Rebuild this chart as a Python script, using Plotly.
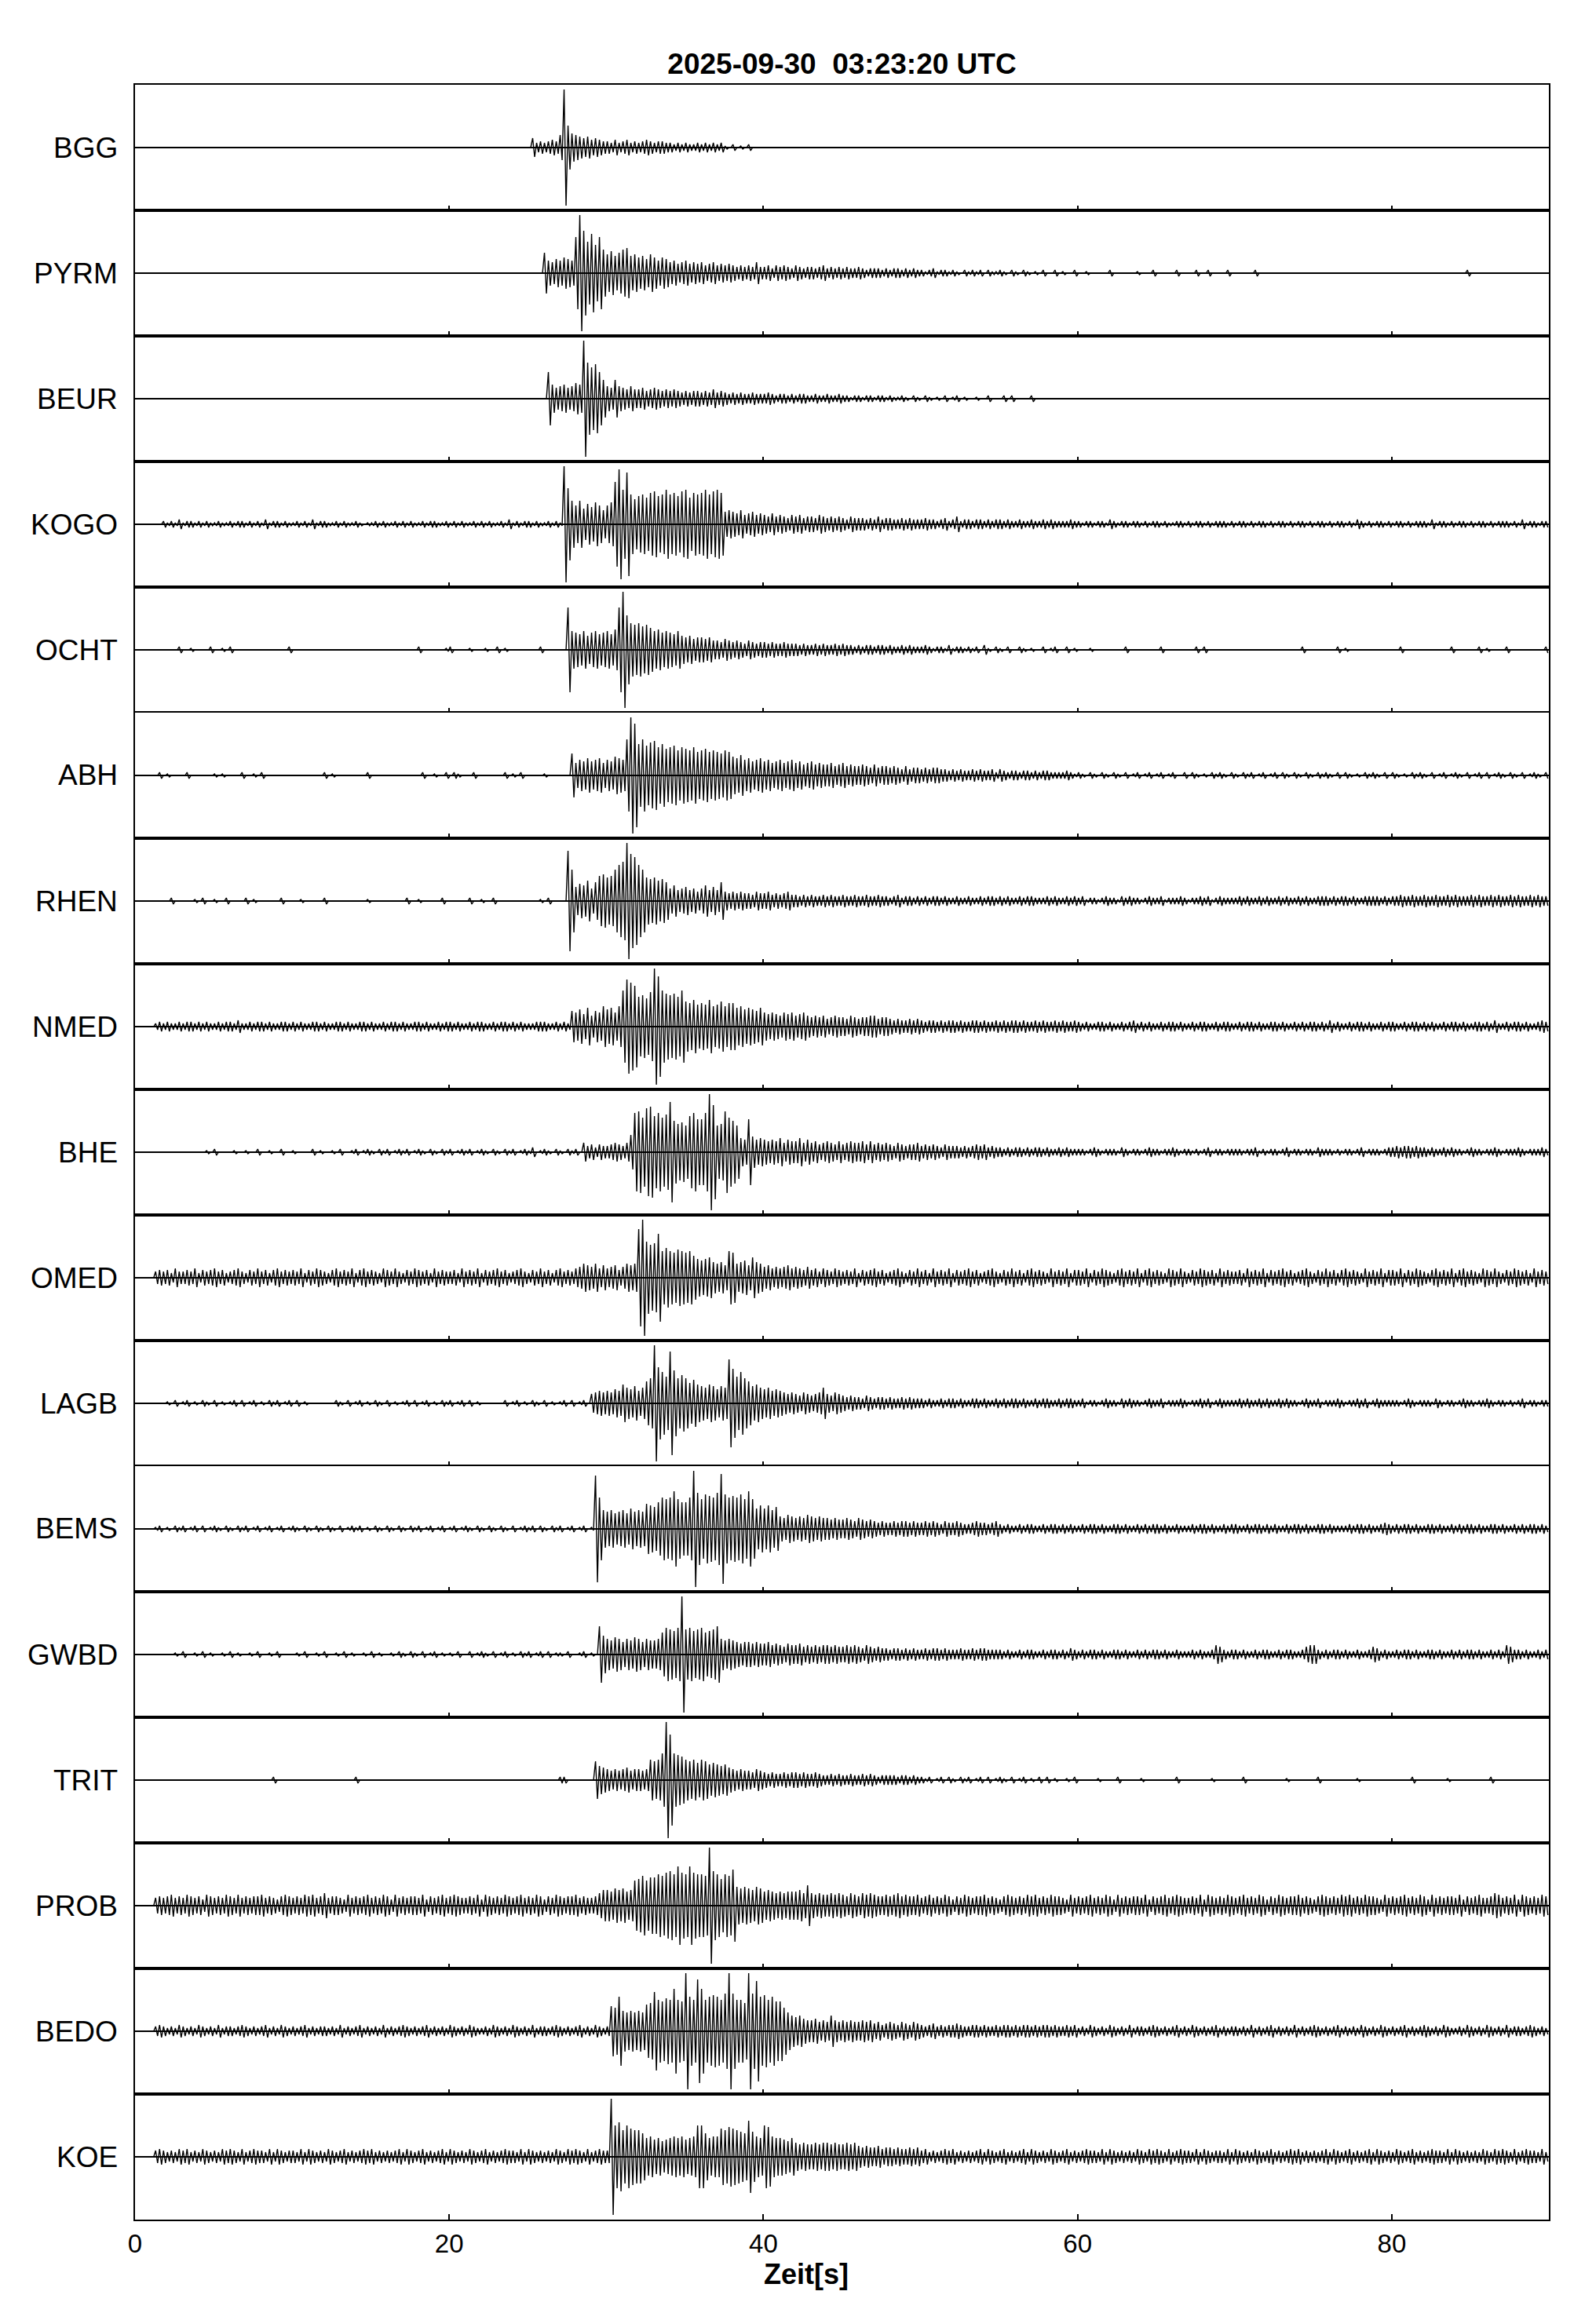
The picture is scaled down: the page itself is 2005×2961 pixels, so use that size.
import plotly.graph_objects as go
from plotly.subplots import make_subplots

TITLE = "2025-09-30\u00a0 03:23:20 UTC"
X_LABEL = "Zeit[s]"
X_TICKS = [0, 20, 40, 60, 80]
T_MAX = 90

# Traces are stored as peak amplitudes per 0.25 s bin (min/max decimation):
# one text row per 10 s, one character per bin, 0-9 a-z A-E -> 0..40,
# 40 = half the panel height.
BIN_S = 0.25
LEVELS = "0123456789abcdefghijklmnopqrstuvwxyzABCDE"

ZERO = "0000 0000 0000 0000 0000 0000 0000 0000 0000 0000"
N3_A = "2324 3232 4323 2423 3234 3232 3423 2432 3234 2323"
N3_B = "3232 4232 3423 2324 2323 4323 2342 3232 4323 2432"
N4_A = "4536 4546 3545 6453 4564 3546 4535 6454 3645 4635"
N4_B = "5463 5465 4356 4546 3564 5436 5464 3546 5453 6454"
N5_A = "5675 6576 4657 6566 7565 4676 5657 6756 5766 5475"
N5_B = "6567 5657 6475 6566 5746 5675 6765 5657 4765 6576"

BGG = [
    ZERO, ZERO,
    "0000 0000 0000 0000 0000 0634 3454 8Be9 8767 5654",
    "4353 4534 3454 3443 3232 3223 2323 2310 2010 2000",
    ZERO, ZERO, ZERO, ZERO, ZERO,
]
PYRM = [
    ZERO, ZERO,
    "0000 0000 0000 0000 0000 0000 d879 8a98 nBrk pinf",
    "cebd fgbc ab9c a8a9 7867 8676 7567 5656 5454 5474",
    "4535 4543 5434 4345 3434 3433 4323 3323 2332 3232",
    "2123 1221 2102 1212 0211 2102 1021 0102 0020 1002",
    "0010 0000 2000 0001 0002 0000 0200 0020 0200 0020",
    "0000 0200 0000 0000 0000 0000 0000 0000 0000 0000",
    "0000 0000 0000 0000 0002 0000 0000 0000 0000 0000",
]
BEUR = [
    ZERO, ZERO,
    "0000 0000 0000 0000 0000 0000 0h97 8978 a9Bn kmhc",
    "87c8 7686 6756 7656 5654 5455 4546 4543 4343 3433",
    "3432 3323 2332 2322 3223 2212 2122 1221 2112 1021",
    "0210 1020 1201 0010 0200 0202 0000 2000 0000 0000",
    ZERO, ZERO, ZERO,
]
KOGO = [
    "0000 0002 1213 1221 2121 1211 2122 1212 1312 2121",
    "1212 1312 2112 1211 2101 1212 1121 2121 1212 2112",
    "1212 1121 2121 1213 1212 2121 1212 1Bnf cfad bec9",
    "cerz mxjg ijhk lijm jkil mhkj kmjl mk89 8796 7867",
    "6575 6546 5645 5465 4545 4354 4434 3534 4334 3433",
    "3433 2342 3523 3233 2323 3232 2322 3223 2322 2232",
    "2122 1221 3212 2122 1212 2121 1221 2122 1212 2212",
    "1221 2122 1212 2121 2212 1221 2122 1213 2121 2212",
    "1221 2122 2131 2212 1221 2122 1212 2212 1312 2122",
]
OCHT = [
    "0000 0000 0002 0010 0002 0010 2000 0000 0000 0002",
    "0000 0000 0000 0000 0000 0000 0000 0000 2000 0001",
    "2000 0100 0100 2010 0000 0002 0000 00rc bac9 bcab",
    "cadr Bmhg hfge cdbc bac9 8978 8786 6576 5654 6545",
    "5454 4544 4343 3434 3343 4332 3233 2332 3223 2322",
    "2321 2213 1221 2120 3102 1020 0210 1002 0120 0201",
    "0001 0000 0000 2000 0000 0200 0000 0020 2000 0000",
    "0000 0000 0000 0000 0200 0000 0020 1000 0000 0000",
    "0020 0000 0000 0002 0000 0020 1000 0200 0000 0002",
]
ABH = [
    "0000 0020 1000 0200 0000 1010 0002 0010 2000 0000",
    "0000 0000 2010 0000 0002 0000 0000 0000 0200 1002",
    "0210 0020 0000 0020 1020 0000 1000 000e 8a9b 9ab8",
    "a9cb anBx knjl mikh ijgi hgif ghfg fegf cbda b9ab",
    "9a89 a89a 8978 9787 7867 8676 6765 7566 5654 6455",
    "4545 5443 4343 3434 3342 4323 3233 2323 3222 2321",
    "2102 1021 0210 2012 0120 1201 2002 0210 1021 2102",
    "1021 2012 0120 2102 1021 0212 1020 2101 0212 1020",
    "2101 0212 1020 1201 2102 0120 2012 1021 0201 2102",
]
RHEN = [
    "0000 0000 0200 0001 0200 1002 0000 2010 0000 0200",
    "0010 0000 2000 0000 0001 0000 0000 0200 1000 0020",
    "0000 0200 1002 0000 0000 0001 0200 00wk 9bad 8cgh",
    "fgkn pBus nkfe fdec 8a78 9786 8a79 7c65 6565 5465",
    "5645 4564 4343 4334 3433 4334 3343 3433 2342 3323",
    "2323 3232 2322 3223 2332 3232 2323 3222 3232 2323",
    "2312 2123 2213 2322 1232 2312 2232 1223 2312 3222",
    "2323 2232 3223 2322 3232 2333 2323 3232 2333 3232",
    "3343 3433 4334 3343 4333 4343 3434 3343 4334 3433",
]
NMED = [
    "0000 0232 3223 2332 3232 2323 3242 2323 3232 2332",
    "3232 2332 3223 3232 2332 3223 2332 3223 3232 2323",
    "3232 2323 3223 2332 3232 2233 3223 232a 9b8c 7a9d",
    "bc9d nusq jkim Bwnl kljn gfhe fehd egdf fcdb cbac",
    "9898 7989 7897 6767 5676 6576 5667 7566 5454 4545",
    "4344 3434 4343 3443 4334 3434 4343 3434 3343 4334",
    "3232 2332 3223 2342 3232 2323 3232 2323 3223 2332",
    "2323 3232 2332 3223 2323 3232 4232 2323 3232 2323",
    "3223 2332 3232 2323 3232 2332 3242 2323 3232 2343",
]
BHE = [
    "0000 0000 0000 0000 0010 2000 0100 1002 0010 0200",
    "1000 0201 0010 2001 2012 1021 2012 1201 2102 1021",
    "2012 1201 2102 1021 2012 1301 2102 1021 2064 5354",
    "4565 46bp qmst npmo wkij hnpl lpBu hiqm kh98 la89",
    "8787 9687 7968 6756 7657 5676 6757 5656 5465 4556",
    "4545 4354 4434 3454 5343 3232 3323 2332 3223 2322",
    "2212 3212 2213 2122 1232 2122 3212 2121 2312 2122",
    "2212 2312 1221 2312 2122 1322 2121 2212 3122 2123",
    "3434 4343 3232 2323 2212 3221 2232 1222 3212 2232",
]
OMED = [
    "0000 0454 5364 4546 3545 6453 4564 3546 4535 6454",
    N4_B,
    "4536 4546 3545 6453 4564 3546 4535 6454 6798 7968",
    "6785 7989 vBnl mshj hgih ghec bcda 9a8h g9ab 8da9",
    "7867 6786 7657 5646 5465 4546 3545 6453 4564 3546",
    N4_A, N4_B, N4_A, N4_B,
]
LAGB = [
    "0000 0000 1020 1201 0210 2010 1202 0120 1021 2012",
    "0201 0000 0002 1020 1201 0210 2010 1202 0120 1021",
    "2012 0201 0000 0020 1201 0210 2010 1202 0120 6787",
    "8798 ca9b 8aeg Bnkh xlgi gdfc bacb 9bas mhkg ebca",
    "9a89 8767 6576 567a 6576 5454 4354 3443 4334 3433",
    "3232 2323 3232 2332 3223 2323 3232 2323 3223 2332",
    "2312 2123 2213 2322 1232 2312 2232 1223 2312 3222",
    "2323 2232 3223 2322 1232 2312 2232 1223 2312 3222",
    "2212 3212 2213 2122 1232 2122 3212 2121 2312 2122",
]
BEMS = [
    "0000 0120 1021 2012 0201 2102 1021 2012 0120 1201",
    "2102 1021 0210 2012 1201 0210 2102 1021 2012 0120",
    "1201 2102 1021 0210 2012 1202 1021 2012 0120 1ykc",
    "bcab cadb cbgf ehkj kojh hkBn jmlk nzmk lkmj ojdf",
    "dfce 8798 7879 8787 7676 6765 7656 5454 4545 5454",
    "4545 4354 4543 3454 4345 3232 2323 3223 2332 3232",
    "2323 3232 2332 3223 2323 3232 2322 2323 3232 2323",
    "3223 2332 3232 2323 3232 2332 3222 2323 3232 2343",
    "2323 3232 2332 3223 2323 3232 2332 3223 2323 3232",
]
GWBD = [
    "0000 0000 0010 2001 0201 0010 2010 0102 0010 2000",
    "0102 0010 2001 0201 0010 2010 0102 1021 0201 2010",
    "1020 0201 2102 0120 1021 2012 0201 1020 0120 10ic",
    "a9ba 8a9b a8a9 9aeh gfhB ghfg hefg ia9a 9878 8787",
    "7867 6576 6756 5656 6565 5656 5465 4544 3443 4343",
    "3434 4343 3343 3434 4333 3232 2323 3223 2332 3243",
    "2323 3232 2332 3223 2323 3232 2322 2323 2236 5323",
    "3232 2323 3223 2332 2356 6323 2332 3223 2235 4232",
    "2323 3232 2332 3223 2323 3232 2323 2653 3232 2323",
]
TRIT = [
    "0000 0000 0000 0000 0000 0000 0000 0000 0002 0000",
    "0000 0000 0000 0000 2000 0000 0000 0000 0000 0000",
    "0000 0000 0000 0000 0000 0000 0000 2200 0000 0c98",
    "7676 7867 767d cdhB thgf dcdb dcab a9a8 7676 6576",
    "5454 4545 5454 4543 3434 3343 3434 3233 3323 3232",
    "2120 1202 1021 2012 0201 2102 0120 1020 2010 0102",
    "0000 0100 0020 0000 1000 0000 0200 0000 0010 0000",
    "0020 0000 0000 0100 0000 0200 0000 0001 0000 0000",
    "0000 0200 0000 0010 0000 0000 0200 0000 0000 0000",
]
PROB = [
    "0000 0565 6756 5765 6476 5657 6575 6566 7565 4676",
    "5657 6756 8566 5475 6567 5657 6475 6566 5746 5675",
    "6765 5657 4765 6576 5675 6576 4657 6566 7565 568a",
    "a9ba b9ag hjgi ikjl mkpl kplk kjBm khkj ncbc bacb",
    "9a98 9899 9a8d 8787 7878 7687 6878 7667 6786 7667",
    N5_A, N5_B, N5_A,
    "6567 5657 6475 6566 5746 5675 5687 5657 4765 6576",
]
BEDO = [
    "0000 0343 2324 3232 4323 2423 3234 3232 3423 2432",
    "3234 2323 3232 4232 3423 2324 2323 4323 2342 3232",
    "4323 2432 2324 3232 4323 2423 3234 3232 3423 2432",
    "3gfm dcdc dchi pkjl krkj Bmkx rkmn mkoB okki Bowm",
    "nkmj jfca 9a87 7867 6a76 7676 6767 5645 6546 5465",
    "4345 3434 4543 3443 4334 3443 4344 3434 4343 3434",
    N3_A, N3_B,
    "3234 2323 4323 2432 2324 3232 4323 2423 3234 3232",
]
KOE = [
    "0000 0454 3435 4534 3543 4354 5435 3454 4353 5434",
    "4353 5434 3543 4534 3454 5343 4345 3543 4534 3453",
    "5434 3543 4534 3454 4353 5434 3435 4354 5435 3454",
    "4Bkm hkih hfcd bcab cdcd bcdk kfcd dihj ihgf ngdc",
    "kjdc cbac 9898 8989 9898 8989 7676 6756 6565 5656",
    "4534 3454 5343 4345 3543 4534 3453 5434 3543 4534",
    "3454 4353 5434 3435 4354 5435 3454 4353 5434 4353",
    "5434 3543 4534 3454 5343 4345 3543 4534 3453 5434",
    "3543 4534 3454 4353 5434 3435 4354 5435 3454 4353",
]

STATIONS = ["BGG", "PYRM", "BEUR", "KOGO", "OCHT", "ABH", "RHEN", "NMED", "BHE",
            "OMED", "LAGB", "BEMS", "GWBD", "TRIT", "PROB", "BEDO", "KOE"]
TRACES = [BGG, PYRM, BEUR, KOGO, OCHT, ABH, RHEN, NMED, BHE,
          OMED, LAGB, BEMS, GWBD, TRIT, PROB, BEDO, KOE]

FONT = "Liberation Sans, Arial, Helvetica, sans-serif"

# page body keeps an 8 px margin, so the figure is made 8 px smaller
W, H = 1997, 2953
M_L, M_R, M_T, M_B = 164, 32, 100, 133
PLOT_W = W - M_L - M_R
PLOT_H = H - M_T - M_B


def peaks_of(rows, name):
    s = "".join(r.replace(" ", "") for r in rows)
    if len(s) != int(T_MAX / BIN_S):
        raise ValueError(f"{name}: {len(s)} bins, rows {[len(r.replace(' ', '')) for r in rows]}")
    return [LEVELS.index(c) for c in s]


n = len(STATIONS)
fig = make_subplots(rows=n, cols=1, shared_xaxes=True, vertical_spacing=0)

for i, (name, rows) in enumerate(zip(STATIONS, TRACES), start=1):
    peaks = peaks_of(rows, name)
    xs, ys = [], []
    # each bin is drawn as its max, then its min
    for k, a in enumerate(peaks):
        t0 = k * BIN_S
        xs += [t0 + BIN_S * 0.25, t0 + BIN_S * 0.75]
        ys += [a, -a]
    fig.add_trace(go.Scatter(x=xs, y=ys, mode="lines",
                             line=dict(color="black", width=1.4),
                             hoverinfo="skip", showlegend=False),
                  row=i, col=1)
    yref = "y" if i == 1 else f"y{i}"
    fig.add_annotation(text=name, xref="paper", x=-20 / PLOT_W, xanchor="right",
                       yref=yref, y=0, yanchor="middle", showarrow=False,
                       font=dict(family=FONT, size=37, color="black"))

fig.update_xaxes(range=[0, T_MAX], tickvals=X_TICKS, ticks="inside", ticklen=6,
                 tickwidth=2, tickcolor="black", showline=True, linewidth=2,
                 linecolor="black", mirror=True, showgrid=False, zeroline=False)
fig.update_xaxes(showticklabels=True, ticklen=7,
                 tickfont=dict(family=FONT, size=33, color="black"),
                 row=n, col=1)
fig.update_yaxes(range=[-40, 40], showticklabels=False, ticks="", showline=True,
                 linewidth=2, linecolor="black", mirror=True, showgrid=False,
                 zeroline=True, zerolinewidth=2, zerolinecolor="black")

fig.add_annotation(text=f"<b>{X_LABEL}</b>", xref="paper", x=(1027 - 172) / PLOT_W,
                   yref="paper", y=-69 / PLOT_H, xanchor="center", yanchor="middle",
                   showarrow=False, font=dict(family=FONT, size=36, color="black"))

fig.update_layout(
    width=W, height=H,
    margin=dict(l=M_L, r=M_R, t=M_T, b=M_B),
    paper_bgcolor="white", plot_bgcolor="white",
    title=dict(text=f"<b>{TITLE}</b>", x=0.5, xref="paper", xanchor="center",
               y=1 - 73 / H, yref="container", yanchor="middle",
               font=dict(family=FONT, size=37, color="black")),
)

fig.write_html("out.html")
